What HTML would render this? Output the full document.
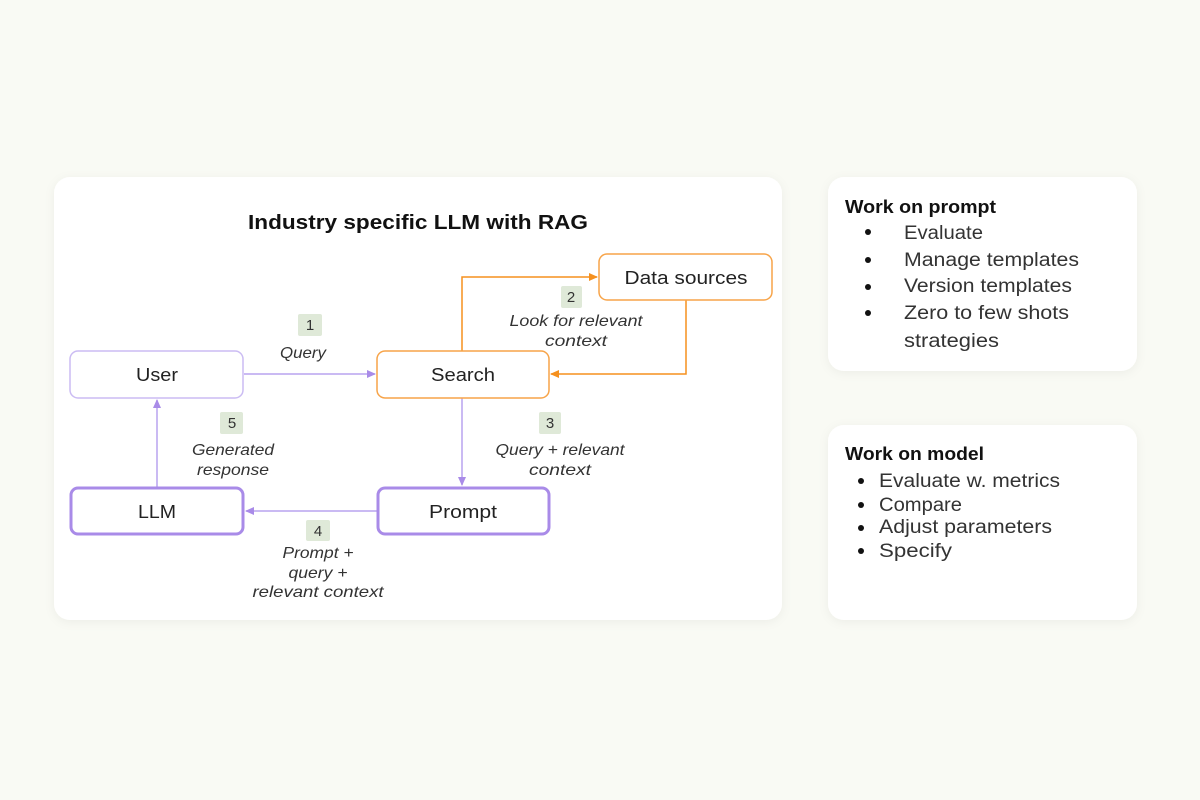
<!DOCTYPE html>
<html><head><meta charset="utf-8"><style>
html,body{margin:0;padding:0;background:#f9faf4;}
svg{display:block;font-family:"Liberation Sans",sans-serif;}
</style></head><body>
<svg width="1200" height="800" viewBox="0 0 1200 800" xmlns="http://www.w3.org/2000/svg">
<defs>
<filter id="sh" x="-10%" y="-10%" width="120%" height="120%"><feDropShadow dx="0" dy="2" stdDeviation="5" flood-color="#000" flood-opacity="0.05"/></filter>
<marker id="ap" markerWidth="10" markerHeight="10" refX="8" refY="5" orient="auto" markerUnits="userSpaceOnUse"><path d="M0,1 L9,5 L0,9 Z" fill="#a98be8"/></marker>
<marker id="ao" markerWidth="10" markerHeight="10" refX="8" refY="5" orient="auto" markerUnits="userSpaceOnUse"><path d="M0,1 L9,5 L0,9 Z" fill="#f5901e"/></marker>
</defs>
<rect width="1200" height="800" fill="#f9faf4"/>
<rect x="54" y="177" width="728" height="443" rx="16" fill="#fff" filter="url(#sh)"/>
<rect x="828" y="177" width="309" height="194" rx="16" fill="#fff" filter="url(#sh)"/>
<rect x="828" y="425" width="309" height="195" rx="16" fill="#fff" filter="url(#sh)"/>

<text x="418" y="229" text-anchor="middle" font-size="20" font-weight="bold" fill="#111" textLength="340" lengthAdjust="spacingAndGlyphs">Industry specific LLM with RAG</text>

<line x1="244" y1="374" x2="375" y2="374" stroke="#b9a3ef" stroke-width="1.5" marker-end="url(#ap)"/>
<polyline points="462,351 462,277 597,277" fill="none" stroke="#f5901e" stroke-width="1.5" marker-end="url(#ao)"/>
<polyline points="686,300 686,374 551,374" fill="none" stroke="#f5901e" stroke-width="1.5" marker-end="url(#ao)"/>
<line x1="462" y1="398" x2="462" y2="485" stroke="#b9a3ef" stroke-width="1.5" marker-end="url(#ap)"/>
<line x1="377" y1="511" x2="246" y2="511" stroke="#b9a3ef" stroke-width="1.5" marker-end="url(#ap)"/>
<line x1="157" y1="487" x2="157" y2="400" stroke="#b9a3ef" stroke-width="1.5" marker-end="url(#ap)"/>

<rect x="70" y="351" width="173" height="47" rx="8" fill="#fff" stroke="#cbbcf3" stroke-width="1.5"/>
<text x="157" y="381" text-anchor="middle" font-size="18" fill="#222" textLength="42" lengthAdjust="spacingAndGlyphs">User</text>
<rect x="377" y="351" width="172" height="47" rx="8" fill="#fff" stroke="#f7a449" stroke-width="1.5"/>
<text x="463" y="381" text-anchor="middle" font-size="18" fill="#222" textLength="64" lengthAdjust="spacingAndGlyphs">Search</text>
<rect x="599" y="254" width="173" height="46" rx="8" fill="#fff" stroke="#f7a449" stroke-width="1.5"/>
<text x="686" y="284" text-anchor="middle" font-size="18" fill="#222" textLength="123" lengthAdjust="spacingAndGlyphs">Data sources</text>
<rect x="71" y="488" width="172" height="46" rx="7" fill="#fff" stroke="#a98be8" stroke-width="3"/>
<text x="157" y="518" text-anchor="middle" font-size="18" fill="#222" textLength="38" lengthAdjust="spacingAndGlyphs">LLM</text>
<rect x="378" y="488" width="171" height="46" rx="7" fill="#fff" stroke="#a98be8" stroke-width="3"/>
<text x="463" y="518" text-anchor="middle" font-size="18" fill="#222" textLength="68" lengthAdjust="spacingAndGlyphs">Prompt</text>

<g fill="#dfe9d8">
<rect x="298" y="314" width="24" height="22" rx="2"/>
<rect x="561" y="286" width="21" height="22" rx="2"/>
<rect x="539" y="412" width="22" height="22" rx="2"/>
<rect x="306" y="520" width="24" height="21" rx="2"/>
<rect x="220" y="412" width="23" height="22" rx="2"/>
</g>
<g font-size="15" fill="#333" text-anchor="middle">
<text x="310" y="330">1</text>
<text x="571" y="302">2</text>
<text x="550" y="428">3</text>
<text x="318" y="536">4</text>
<text x="232" y="428">5</text>
</g>

<g font-size="16" font-style="italic" fill="#333" text-anchor="middle">
<text x="303" y="358" textLength="46" lengthAdjust="spacingAndGlyphs">Query</text>
<text x="576" y="326" textLength="133" lengthAdjust="spacingAndGlyphs">Look for relevant</text>
<text x="576" y="346" textLength="62" lengthAdjust="spacingAndGlyphs">context</text>
<text x="560" y="455" textLength="129" lengthAdjust="spacingAndGlyphs">Query + relevant</text>
<text x="560" y="475" textLength="62" lengthAdjust="spacingAndGlyphs">context</text>
<text x="233" y="455" textLength="82" lengthAdjust="spacingAndGlyphs">Generated</text>
<text x="233" y="475" textLength="72" lengthAdjust="spacingAndGlyphs">response</text>
<text x="318" y="558" textLength="71" lengthAdjust="spacingAndGlyphs">Prompt +</text>
<text x="318" y="578" textLength="59" lengthAdjust="spacingAndGlyphs">query +</text>
<text x="318" y="597" textLength="131" lengthAdjust="spacingAndGlyphs">relevant context</text>
</g>

<g font-size="19" fill="#333">
<text x="845" y="213" font-weight="bold" font-size="18" fill="#111" textLength="151" lengthAdjust="spacingAndGlyphs">Work on prompt</text>
<circle cx="868" cy="232" r="3" fill="#111"/><text x="904" y="239" textLength="79" lengthAdjust="spacingAndGlyphs">Evaluate</text>
<circle cx="868" cy="260" r="3" fill="#111"/><text x="904" y="266" textLength="175" lengthAdjust="spacingAndGlyphs">Manage templates</text>
<circle cx="868" cy="287" r="3" fill="#111"/><text x="904" y="292" textLength="168" lengthAdjust="spacingAndGlyphs">Version templates</text>
<circle cx="868" cy="313" r="3" fill="#111"/><text x="904" y="319" textLength="165" lengthAdjust="spacingAndGlyphs">Zero to few shots</text>
<text x="904" y="347" textLength="95" lengthAdjust="spacingAndGlyphs">strategies</text>

<text x="845" y="460" font-weight="bold" font-size="18" fill="#111" textLength="139" lengthAdjust="spacingAndGlyphs">Work on model</text>
<circle cx="861" cy="481" r="3" fill="#111"/><text x="879" y="487" textLength="181" lengthAdjust="spacingAndGlyphs">Evaluate w. metrics</text>
<circle cx="861" cy="505" r="3" fill="#111"/><text x="879" y="511" textLength="83" lengthAdjust="spacingAndGlyphs">Compare</text>
<circle cx="861" cy="528" r="3" fill="#111"/><text x="879" y="533" textLength="173" lengthAdjust="spacingAndGlyphs">Adjust parameters</text>
<circle cx="861" cy="551" r="3" fill="#111"/><text x="879" y="557" textLength="73" lengthAdjust="spacingAndGlyphs">Specify</text>
</g>
</svg>
</body></html>
